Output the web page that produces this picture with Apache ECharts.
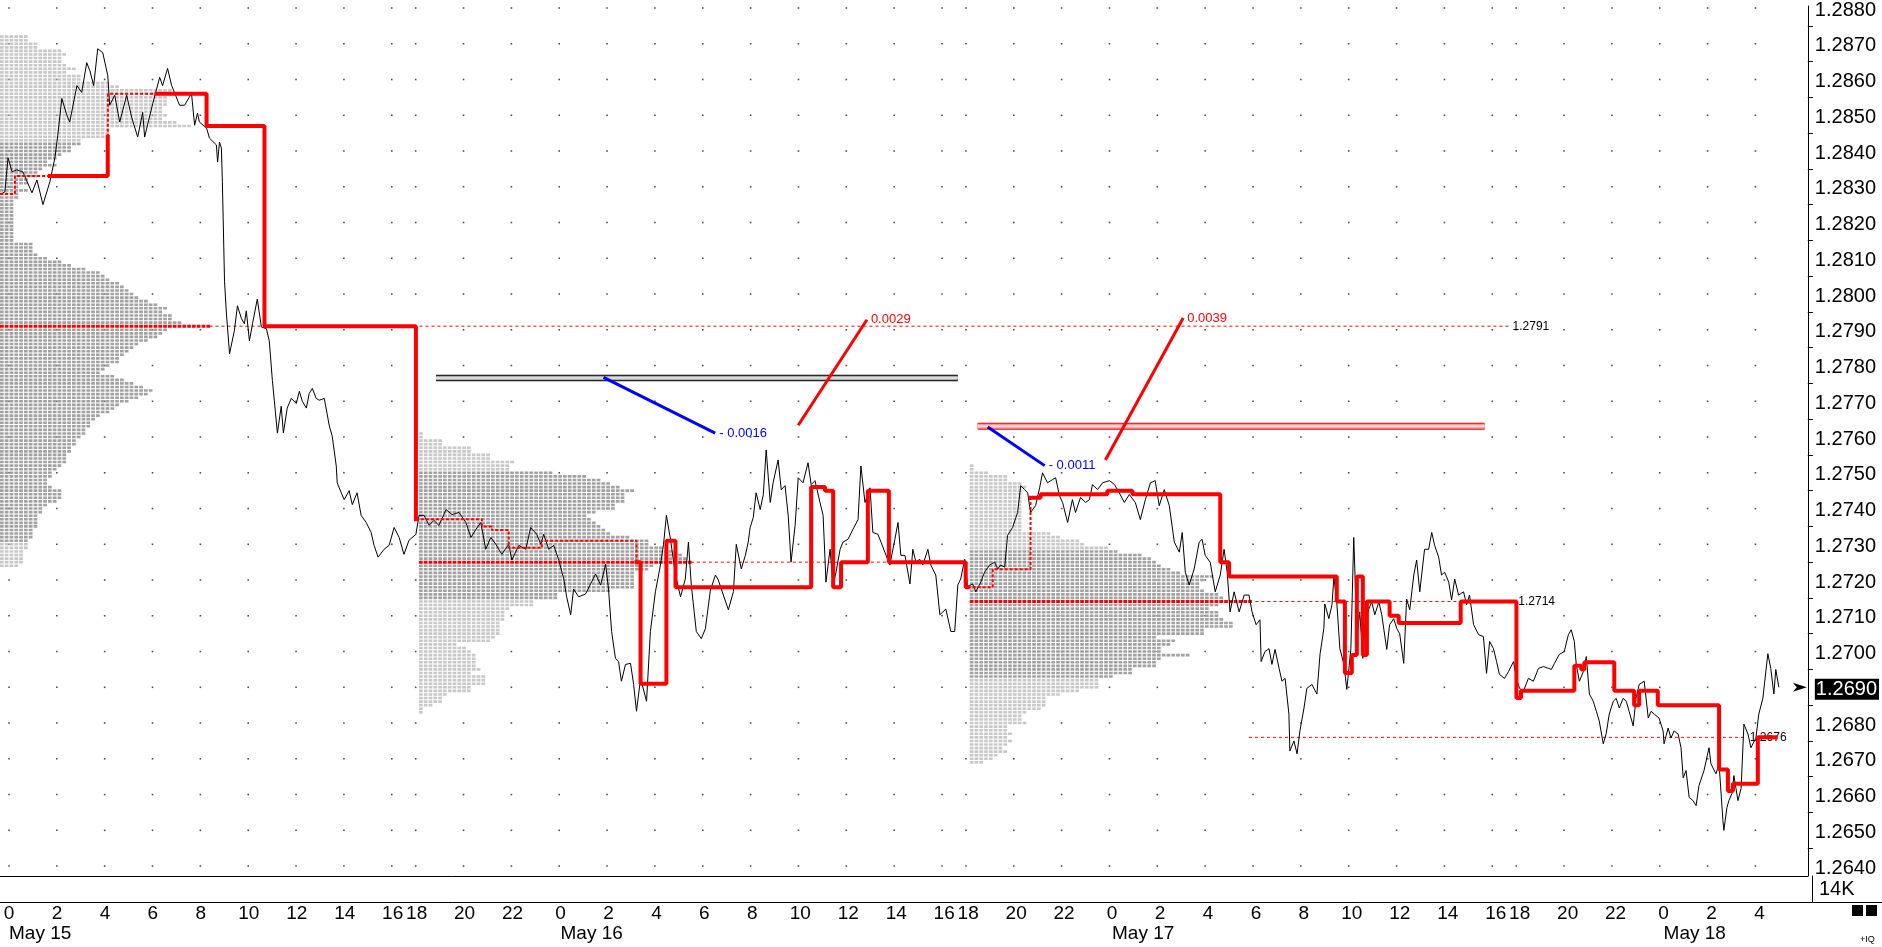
<!DOCTYPE html>
<html><head><meta charset="utf-8">
<script src="https://cdn.jsdelivr.net/npm/echarts@6/dist/echarts.min.js"></script>
<style>html,body{margin:0;padding:0;background:#fff}#c{width:1882px;height:947px}</style>
</head><body><div id="c"></div><script>
// ---------- axes / ticks ----------
const xMin = -0.375, xMax = 75.19;           // trading-hour index (May 15 00:00 = 0, 16:00-17:00 break removed)
const yMin = 1.263722, yMax = 1.288056;
const tickT = [0,2,4,6,8,10,12,14,16,17,19,21,23,25,27,29,31,33,35,37,39,40,42,44,46,48,50,52,54,56,58,60,62,63,65,67,69,71,73];
const tickLabels = ['0','2','4','6','8','10','12','14','16','18','20','22','0','2','4','6','8','10','12','14','16','18','20','22','0','2','4','6','8','10','12','14','16','18','20','22','0','2','4'];
const dateT = [0,23,46,69];
const dateLabels = ['May 15','May 16','May 17','May 18'];
const priceLevels = [1.264,1.265,1.266,1.267,1.268,1.269,1.270,1.271,1.272,1.273,1.274,1.275,1.276,1.277,1.278,1.279,1.280,1.281,1.282,1.283,1.284,1.285,1.286,1.287,1.288];
const halfLevels = [1.2645,1.2655,1.2665,1.2675,1.2685,1.2695,1.2705,1.2715,1.2725,1.2735,1.2745,1.2755,1.2765,1.2775,1.2785,1.2795,1.2805,1.2815,1.2825,1.2835,1.2845,1.2855,1.2865,1.2875];
const lastPrice = 1.2690;

// ---------- price line [hourIndex, price] ----------
const priceSeries = [[-0.37,1.28278],[-0.17,1.28286],[-0.04,1.28381],[0.13,1.28342],[0.33,1.28347],[0.58,1.28342],[0.96,1.28283],[1.17,1.28319],[1.42,1.2825],[1.71,1.28314],[1.92,1.28381],[2.04,1.28444],[2.21,1.28547],[2.42,1.285],[2.54,1.28481],[2.84,1.28583],[3.04,1.28564],[3.25,1.28647],[3.38,1.28625],[3.54,1.28583],[3.71,1.28686],[3.92,1.28675],[4.13,1.28611],[4.21,1.28528],[4.42,1.28556],[4.63,1.28481],[4.92,1.28556],[5.13,1.28494],[5.38,1.28439],[5.59,1.28508],[5.67,1.28439],[6.01,1.28533],[6.3,1.28606],[6.42,1.28583],[6.63,1.28631],[6.8,1.28583],[7.13,1.28528],[7.34,1.28528],[7.63,1.28561],[7.76,1.28472],[7.88,1.28506],[7.96,1.28481],[8.26,1.28464],[8.38,1.28436],[8.67,1.28417],[8.72,1.28369],[8.8,1.28425],[8.88,1.28408],[8.92,1.28314],[9.01,1.28036],[9.09,1.27944],[9.22,1.27833],[9.42,1.27897],[9.55,1.27967],[9.72,1.27931],[9.84,1.27917],[9.92,1.27953],[10.05,1.27869],[10.18,1.27917],[10.38,1.27986],[10.55,1.27908],[10.76,1.27903],[10.88,1.27869],[11.01,1.27758],[11.09,1.27703],[11.22,1.27611],[11.38,1.27686],[11.47,1.27611],[11.63,1.27681],[11.8,1.27708],[12.01,1.27694],[12.14,1.27728],[12.26,1.277],[12.43,1.27681],[12.55,1.27722],[12.68,1.27736],[12.84,1.27708],[12.97,1.27703],[13.18,1.27708],[13.39,1.27631],[13.51,1.27603],[13.68,1.27519],[13.72,1.27472],[13.89,1.27444],[14.01,1.27425],[14.22,1.2745],[14.35,1.27411],[14.55,1.27444],[14.72,1.27381],[14.93,1.27361],[15.14,1.27333],[15.26,1.27297],[15.43,1.27264],[15.68,1.27286],[15.89,1.27297],[16.1,1.27347],[16.31,1.27319],[16.51,1.27272],[16.72,1.27311],[17.01,1.27328],[17.14,1.27381],[17.35,1.27381],[17.56,1.27353],[17.76,1.27367],[17.97,1.27353],[18.27,1.27397],[18.52,1.27383],[18.81,1.27389],[19.1,1.27361],[19.31,1.27319],[19.52,1.27342],[19.72,1.27361],[19.93,1.27286],[20.14,1.27319],[20.35,1.273],[20.6,1.27272],[20.89,1.273],[21.02,1.27256],[21.31,1.27297],[21.6,1.27286],[21.81,1.27347],[22.06,1.27328],[22.23,1.273],[22.35,1.27328],[22.56,1.27286],[22.77,1.27297],[22.98,1.27256],[23.19,1.27203],[23.31,1.27153],[23.48,1.27103],[23.6,1.27175],[23.81,1.27153],[24.1,1.27161],[24.31,1.27189],[24.52,1.27217],[24.73,1.27186],[24.94,1.27244],[25.06,1.27175],[25.19,1.27056],[25.35,1.26981],[25.48,1.26972],[25.6,1.26917],[25.77,1.26964],[25.98,1.26967],[26.11,1.26908],[26.23,1.26833],[26.4,1.26925],[26.65,1.26861],[26.81,1.27056],[27.02,1.27167],[27.23,1.27242],[27.36,1.273],[27.48,1.27381],[27.65,1.27314],[27.86,1.27214],[28.07,1.27153],[28.27,1.27203],[28.4,1.27306],[28.52,1.27186],[28.73,1.27056],[28.94,1.27036],[29.11,1.27064],[29.32,1.27172],[29.53,1.27214],[29.65,1.272],[29.86,1.27158],[30.07,1.27117],[30.28,1.27167],[30.4,1.273],[30.61,1.27231],[30.78,1.27269],[30.9,1.27306],[30.98,1.27347],[31.11,1.27375],[31.23,1.27444],[31.4,1.27397],[31.53,1.27439],[31.65,1.27564],[31.82,1.27417],[31.94,1.27472],[32.15,1.27536],[32.28,1.27453],[32.44,1.27464],[32.57,1.27381],[32.69,1.2725],[32.86,1.27353],[32.99,1.27486],[33.19,1.27472],[33.4,1.27528],[33.53,1.27467],[33.69,1.27478],[33.9,1.27417],[34.03,1.27381],[34.15,1.27194],[34.32,1.27286],[34.45,1.27186],[34.57,1.27222],[34.74,1.27286],[34.86,1.27306],[35.07,1.27314],[35.28,1.27342],[35.49,1.27369],[35.61,1.27519],[35.78,1.27417],[35.99,1.27458],[36.11,1.27333],[36.32,1.27328],[36.45,1.27306],[36.61,1.27278],[36.82,1.27242],[37.03,1.27314],[37.16,1.27361],[37.28,1.27269],[37.45,1.27269],[37.66,1.27189],[37.78,1.27286],[37.91,1.2725],[38.07,1.27258],[38.2,1.27242],[38.41,1.27286],[38.53,1.27242],[38.74,1.27214],[38.91,1.27103],[39.16,1.27119],[39.37,1.27056],[39.53,1.27056],[39.66,1.27186],[39.78,1.27203],[39.95,1.27258],[40.07,1.27181],[40.28,1.27189],[40.41,1.27167],[40.62,1.27194],[40.78,1.27222],[40.99,1.27242],[41.2,1.2725],[41.33,1.27231],[41.45,1.27242],[41.62,1.27236],[41.74,1.27325],[41.95,1.27347],[42.16,1.27389],[42.29,1.27464],[42.45,1.27453],[42.58,1.27444],[42.7,1.27389],[42.91,1.27408],[43.08,1.27458],[43.2,1.275],[43.41,1.27472],[43.62,1.27481],[43.75,1.27486],[43.91,1.27436],[44.04,1.27417],[44.25,1.27361],[44.45,1.27425],[44.58,1.27389],[44.79,1.27431],[45.0,1.27417],[45.16,1.27425],[45.29,1.27467],[45.5,1.27453],[45.71,1.27472],[46.0,1.27478],[46.21,1.27467],[46.41,1.27444],[46.62,1.27417],[46.83,1.27439],[47.08,1.27417],[47.29,1.27369],[47.5,1.27425],[47.71,1.27472],[47.91,1.27478],[48.08,1.27408],[48.29,1.27453],[48.5,1.27408],[48.71,1.27306],[48.92,1.27278],[49.04,1.27333],[49.17,1.27222],[49.33,1.27186],[49.54,1.27231],[49.75,1.27306],[49.87,1.27314],[50.0,1.27269],[50.21,1.2725],[50.42,1.27167],[50.63,1.27214],[50.79,1.27286],[50.92,1.27222],[51.04,1.27111],[51.21,1.27167],[51.42,1.27111],[51.63,1.27158],[51.83,1.27158],[51.96,1.27111],[52.13,1.27075],[52.29,1.27089],[52.34,1.26972],[52.5,1.27],[52.67,1.27008],[52.79,1.26964],[52.92,1.27006],[53.09,1.26953],[53.21,1.26917],[53.34,1.26925],[53.5,1.26825],[53.54,1.26722],[53.71,1.2675],[53.84,1.26714],[53.96,1.26778],[54.13,1.26842],[54.25,1.26897],[54.46,1.26908],[54.67,1.26881],[54.8,1.26992],[54.96,1.27064],[55.0,1.27133],[55.17,1.27092],[55.3,1.27131],[55.38,1.27208],[55.5,1.27139],[55.63,1.27008],[55.8,1.26964],[55.92,1.26894],[56.09,1.27008],[56.21,1.27319],[56.25,1.27242],[56.34,1.27036],[56.46,1.27111],[56.59,1.26981],[56.67,1.27075],[56.84,1.27119],[56.96,1.27139],[57.09,1.27103],[57.26,1.27139],[57.38,1.27103],[57.59,1.27006],[57.71,1.27075],[57.88,1.27092],[58.01,1.27064],[58.13,1.2705],[58.3,1.26967],[58.42,1.27147],[58.55,1.27117],[58.72,1.27214],[58.84,1.27256],[58.97,1.27167],[59.17,1.27286],[59.34,1.27286],[59.47,1.27333],[59.59,1.27297],[59.76,1.27264],[59.88,1.27214],[60.01,1.27222],[60.18,1.27194],[60.3,1.27144],[60.43,1.27203],[60.59,1.27158],[60.8,1.27167],[60.93,1.27131],[61.05,1.27158],[61.22,1.27075],[61.43,1.27047],[61.63,1.27042],[61.76,1.26939],[61.89,1.27028],[62.05,1.27008],[62.18,1.26972],[62.3,1.26936],[62.51,1.26925],[62.68,1.26944],[62.89,1.26972],[63.01,1.26925],[63.14,1.26897],[63.3,1.26889],[63.51,1.26925],[63.72,1.26917],[63.93,1.26953],[64.14,1.26958],[64.35,1.26953],[64.47,1.2695],[64.6,1.26967],[64.8,1.26992],[65.01,1.27],[65.18,1.27047],[65.3,1.27061],[65.43,1.27028],[65.51,1.26964],[65.64,1.26917],[65.81,1.26944],[65.93,1.26986],[66.06,1.26881],[66.22,1.26861],[66.35,1.26833],[66.47,1.26806],[66.64,1.26742],[66.76,1.2677],[66.89,1.26825],[67.06,1.26861],[67.18,1.26869],[67.31,1.26842],[67.47,1.26869],[67.6,1.26861],[67.72,1.26833],[67.89,1.26792],[68.01,1.26869],[68.14,1.26908],[68.35,1.26917],[68.52,1.26814],[68.64,1.26833],[68.77,1.26825],[68.97,1.26814],[69.14,1.26778],[69.18,1.26742],[69.35,1.26786],[69.47,1.26758],[69.6,1.26778],[69.77,1.26769],[69.89,1.26731],[69.98,1.26647],[70.1,1.26667],[70.23,1.26592],[70.39,1.26583],[70.52,1.26569],[70.64,1.26625],[70.85,1.26667],[71.06,1.26731],[71.14,1.26686],[71.35,1.26658],[71.48,1.26686],[71.64,1.26528],[71.68,1.265],[71.81,1.26564],[71.89,1.26583],[72.02,1.26603],[72.1,1.26653],[72.27,1.26583],[72.4,1.26617],[72.52,1.26797],[72.69,1.26769],[72.81,1.26731],[73.02,1.26758],[73.14,1.26825],[73.31,1.26869],[73.39,1.26917],[73.52,1.26994],[73.64,1.26953],[73.77,1.26881],[73.85,1.2695],[73.98,1.269]];

// ---------- developing POC step line ----------
const pocSolidSegments = [
  [[1.71,1.2833],[4.13,1.2844]],
  [[6.17,1.2856],[8.26,1.2847],[10.68,1.2791],[17.01,1.2737]],
  [[26.23,1.2725],[26.40,1.2691],[27.48,1.2731],[27.86,1.2718],[33.53,1.2746],[34.11,1.2745],[34.45,1.2718],[34.78,1.2725],[35.90,1.2745],[36.78,1.2725],[39.99,1.2718],[40.07,1.2718]],
  [[42.70,1.2743],[43.12,1.2744],[45.91,1.2745],[46.96,1.2744],[50.63,1.2725],[51.00,1.2721],[55.50,1.2714],[55.84,1.2694],[56.13,1.2699],[56.34,1.2721],[56.59,1.2699],[56.76,1.2714],[57.71,1.2710],[58.09,1.2708],[60.68,1.2714],[63.01,1.2687],[63.20,1.2689],[65.43,1.2696],[65.72,1.2695],[65.85,1.2697],[67.10,1.2689],[67.93,1.2685],[68.14,1.2689],[68.92,1.2685],[71.48,1.2667],[71.85,1.2661],[72.06,1.2663],[73.10,1.2676],[73.85,1.2676]]
];
const pocDottedSegments = [
  [[-0.375,1.2828],[0.25,1.2833],[1.71,1.2833]],
  [[4.13,1.2844],[4.14,1.2856],[6.17,1.2856]],
  [[17.01,1.2737],[19.77,1.2735],[20.18,1.2734],[20.89,1.2729],[22.27,1.2731],[26.23,1.2725]],
  [[40.07,1.2718],[41.12,1.2723],[42.70,1.2743]]
];

// ---------- TPO profiles (block counts per 0.0001 row, top to bottom) ----------
const blockHours = 0.2;
const profile1 = {start:-0.375, top:1.2872, darkLo:1.2731, darkHi:1.2842, poc:1.2791};
const profile1Counts = [6,6,8,8,13,14,13,13,14,16,14,17,17,23,25,36,35,35,35,35,34,34,35,34,37,40,23,23,23,17,17,15,15,13,12,10,12,9,8,8,6,6,4,6,4,4,3,3,3,3,3,3,3,3,3,3,3,3,7,7,7,
  8,10,13,15,18,21,22,23,25,26,27,28,29,31,33,35,34,36,36,38,44,35,34,33,31,29,28,27,26,25,25,23,22,21,24,26,28,30,32,31,29,27,25,24,23,21,20,19,19,18,18,17,16,16,15,15,14,14,14,13,12,11,11,10,10,11,13,13,13,12,10,9,9,8,8,8,8,7,7,7,6,6,6,5,5,5,5,4];
const profile2 = {start:17.14, top:1.2761, darkLo:1.2715, darkHi:1.2750, poc:1.2725};
const profile2Counts = [1,1,5,5,11,11,15,15,20,19,19,28,35,38,40,42,45,43,43,43,41,41,37,35,36,37,38,39,40,44,48,48,51,54,55,56,57,49,48,45,45,45,45,45,40,29,29,24,24,19,18,18,18,17,17,17,17,16,15,8,10,11,12,12,12,12,13,11,14,14,14,11,11,6,5,5,3,1,1];
const profile3 = {start:40.16, top:1.2752, darkLo:1.2693, darkHi:1.2728, poc:1.2714};
const profile3Counts = [1,1,4,8,8,11,12,11,11,11,11,11,11,11,11,11,11,11,11,17,19,23,24,29,31,36,38,39,40,42,44,51,49,48,48,49,52,53,59,52,50,52,52,53,55,55,49,49,39,43,42,40,40,46,40,39,39,34,34,30,27,27,27,23,19,16,16,16,15,12,11,11,12,8,8,9,8,9,8,7,8,6,5,3];

// ---------- reference lines & drawing annotations ----------
const refLines = [
  {price:1.2791, from:8.38, to:62.68, label:'1.2791'},
  {price:1.2725, from:28.5, to:40.07, label:''},
  {price:1.2714, from:52.1, to:62.92, label:'1.2714'},
  {price:1.2676, from:51.83, to:72.6, label:'1.2676'}
];
const grayBand = {price:1.27765, from:17.85, to:39.66};
const redBand = {price:1.2763, from:40.49, to:61.68};
const diffLines = [
  {from:[24.85,1.27767], to:[29.52,1.27611], label:'- 0.0016', color:'#0000ff'},
  {from:[40.91,1.27628], to:[43.29,1.27520], label:'- 0.0011', color:'#0000ff'},
  {from:[32.99,1.27633], to:[35.86,1.27928], label:'0.0029', color:'#ff0000'},
  {from:[45.83,1.27536], to:[49.08,1.27933], label:'0.0039', color:'#ff0000'}
];

// ---------- build ----------
const FONT = 'Liberation Sans, Arial, sans-serif';
function profileRows(p, counts) {
  const topPip = Math.round(p.top * 10000);
  const lo = Math.round(p.darkLo * 10000), hi = Math.round(p.darkHi * 10000), poc = Math.round(p.poc * 10000);
  return counts.map((c, i) => {
    const pip = topPip - i;
    const shade = pip === poc ? 2 : (pip >= lo && pip <= hi ? 1 : 0);
    return [p.start, pip / 10000, c, shade];
  });
}
const shadeColors = ['#c8c8c8', '#a2a2a2', '#ff0000'];
function profileSeries(rows) {
  return {
    type: 'custom', xAxisIndex: 0, yAxisIndex: 0, silent: true, z: 2,
    data: rows,
    renderItem: (params, api) => {
      const t0 = api.value(0), pr = api.value(1), n = api.value(2), sh = api.value(3);
      const a = api.coord([t0, pr]);
      const b = api.coord([t0 + n * blockHours, pr]);
      return {type: 'line', shape: {x1: a[0], y1: a[1], x2: b[0], y2: b[1]},
        style: {stroke: shadeColors[sh], lineWidth: sh === 2 ? 3 : 2.6, lineDash: [3.7, 1.1]}};
    }
  };
}
const dots = [];
tickT.forEach(t => priceLevels.forEach(p => dots.push([t, p])));

const series = [];
series.push({type:'scatter', data:dots, symbol:'rect', symbolSize:1.6, itemStyle:{color:'#222'}, silent:true, z:1, xAxisIndex:0, yAxisIndex:0});
series.push(profileSeries(profileRows(profile1, profile1Counts)));
series.push(profileSeries(profileRows(profile2, profile2Counts)));
series.push(profileSeries(profileRows(profile3, profile3Counts)));
refLines.forEach(r => series.push({
  type:'line', data:[[r.from, r.price],[r.to, r.price]], symbol:'none', silent:true, z:3,
  lineStyle:{color:'#ff0000', width:1, type:[3,3]},
  endLabel:{show: !!r.label, formatter: r.label, color:'#000', fontSize:12, fontFamily:FONT, distance:4}
}));
series.push({type:'line', data:priceSeries, symbol:'none', silent:true, z:4, lineStyle:{color:'#000', width:1},
  markPoint:{symbol:'path://M0,0 L14,5 L0,10 L4,5 Z', symbolSize:[14,9], symbolOffset:[-8,0], silent:true,
    itemStyle:{color:'#000'}, label:{show:false}, data:[{coord:[xMax, lastPrice]}]}});
pocSolidSegments.forEach(seg => series.push({type:'line', data:seg, step:'end', symbol:'none', silent:true, z:5,
  lineStyle:{color:'#ff0000', width:4, cap:'square'}}));
pocDottedSegments.forEach(seg => series.push({type:'line', data:seg, step:'end', symbol:'none', silent:true, z:5,
  lineStyle:{color:'#ff0000', width:2, type:[3,2]}}));
[['#000',6.5],['#a8a8a8',4.5],['#ececec',1.5]].forEach(([c,w]) => series.push({type:'line', silent:true, z:6, symbol:'none',
  data:[[grayBand.from, grayBand.price],[grayBand.to, grayBand.price]], lineStyle:{color:c, width:w}}));
[['#ff0000',7],['#f39a9a',5],['#ffdcdc',2]].forEach(([c,w]) => series.push({type:'line', silent:true, z:6, symbol:'none',
  data:[[redBand.from, redBand.price],[redBand.to, redBand.price]], lineStyle:{color:c, width:w}}));
diffLines.forEach(d => series.push({type:'line', silent:true, z:7, symbol:'none', data:[d.from, d.to],
  lineStyle:{color:d.color, width:3},
  endLabel:{show:true, formatter:d.label, color:d.color, fontSize:13, fontFamily:FONT, distance:4}}));

const chart = echarts.init(document.getElementById('c'), null, {renderer:'canvas'});
chart.setOption({
  animation:false,
  backgroundColor:'#fff',
  grid:[
    {left:0, right:70, top:0, height:876, containLabel:false},
    {left:0, right:70, top:876, height:26, containLabel:false}
  ],
  xAxis:[
    {type:'value', gridIndex:0, min:xMin, max:xMax, position:'bottom',
      axisLine:{show:true, onZero:false, lineStyle:{color:'#000', width:1}}, axisTick:{show:false}, axisLabel:{show:false}, splitLine:{show:false}},
    {type:'value', gridIndex:1, min:xMin, max:xMax, position:'bottom',
      axisLine:{show:true, onZero:false, lineStyle:{color:'#000', width:1}}, axisTick:{show:false}, splitLine:{show:false},
      axisLabel:{show:true, customValues:tickT, formatter:v => tickLabels[tickT.indexOf(v)], margin:2,
        fontSize:19, color:'#000', fontFamily:FONT}},
    {type:'value', gridIndex:1, min:xMin, max:xMax, position:'bottom',
      axisLine:{show:false, onZero:false}, axisTick:{show:false}, splitLine:{show:false},
      axisLabel:{show:true, customValues:dateT, formatter:v => dateLabels[dateT.indexOf(v)], margin:22, align:'left',
        fontSize:19, color:'#000', fontFamily:FONT}}
  ],
  yAxis:[
    {type:'value', gridIndex:0, min:yMin, max:yMax, position:'right', scale:true,
      axisLine:{show:true, onZero:false, lineStyle:{color:'#000', width:1}}, splitLine:{show:false},
      axisTick:{show:true, customValues:halfLevels, length:5, inside:false, lineStyle:{color:'#000'}},
      axisLabel:{show:true, customValues:priceLevels, margin:7, fontSize:20, color:'#000', fontFamily:FONT,
        padding:[4,0,0,0],
        formatter:v => Math.abs(v - lastPrice) < 1e-7 ? '{cur|' + v.toFixed(4) + '}' : v.toFixed(4),
        rich:{cur:{color:'#fff', backgroundColor:'#000', fontSize:20, fontFamily:FONT, padding:[1,2,0,1]}}}},
    {type:'value', gridIndex:1, min:0, max:28000, interval:14000, position:'right',
      axisLine:{show:true, onZero:false, lineStyle:{color:'#000', width:1}}, splitLine:{show:false}, axisTick:{show:false},
      axisLabel:{margin:7, fontSize:20, color:'#000', fontFamily:FONT, formatter:v => v === 14000 ? '14K' : ''}}
  ],
  graphic:[
    {type:'line', shape:{x1:1812, y1:902.5, x2:1882, y2:902.5}, style:{stroke:'#000', lineWidth:1}, silent:true},
    {type:'rect', shape:{x:1852, y:905, width:11, height:11}, style:{fill:'#000'}, silent:true},
    {type:'rect', shape:{x:1866, y:905, width:11, height:11}, style:{fill:'#000'}, silent:true},
    {type:'text', x:1860, y:935, style:{text:'+IQ', fill:'#000', font:'9px ' + FONT}, silent:true}
  ],
  series:series
});
</script></body></html>
